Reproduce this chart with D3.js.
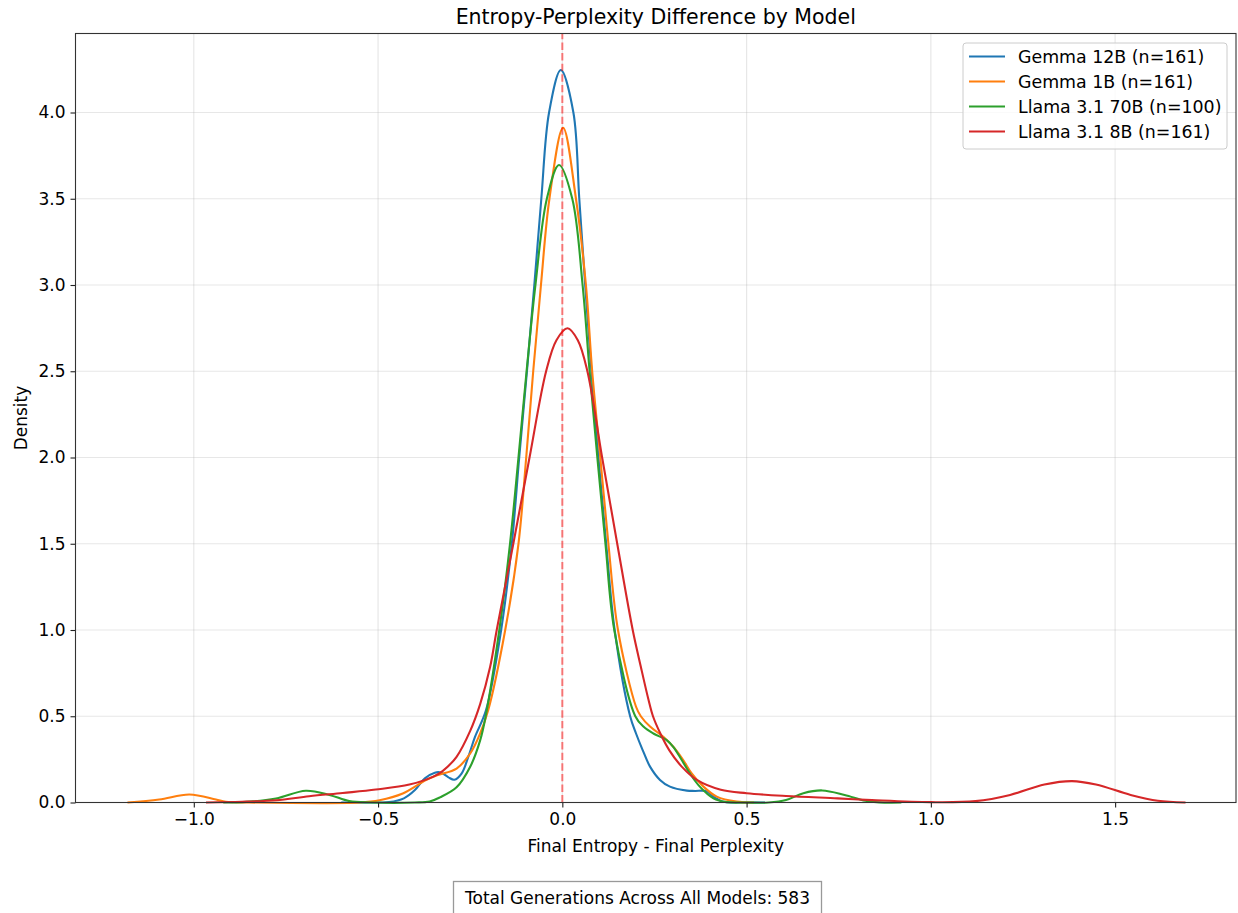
<!DOCTYPE html>
<html>
<head>
<meta charset="utf-8">
<script src="https://cdn.jsdelivr.net/npm/d3@7"></script>
<style>
  body { margin: 0; background: #fff; }
  svg text { font-family: "DejaVu Sans", sans-serif; fill: #000; }
</style>
</head>
<body>
<div id="chart"></div>
<script>
// series names (legend order)
var modelNames = ["Gemma 12B (n=161)", "Gemma 1B (n=161)", "Llama 3.1 70B (n=100)", "Llama 3.1 8B (n=161)"];
var modelColors = ["#1f77b4", "#ff7f0e", "#2ca02c", "#d62728"];

// density curves (x = entropy - perplexity, y = density)
var gemma12bX = [-0.60, -0.50, -0.47, -0.43, -0.40, -0.373, -0.346, -0.33, -0.309, -0.293, -0.273, -0.255, -0.237, -0.207, -0.166, -0.137, -0.117, -0.096, -0.076, -0.057, -0.036, -0.004, 0.030, 0.046, 0.062, 0.079, 0.098, 0.119, 0.142, 0.184, 0.200, 0.218, 0.238, 0.265, 0.292, 0.338, 0.36, 0.39, 0.41, 0.437, 0.47, 0.55];
var gemma12bY = [0, 0, 0.002, 0.024, 0.072, 0.14, 0.173, 0.174, 0.146, 0.132, 0.169, 0.266, 0.38, 0.536, 1.0, 1.5, 2.0, 2.5, 3.0, 3.5, 4.0, 4.246, 4.0, 3.5, 3.0, 2.5, 2.0, 1.5, 1.0, 0.5, 0.40, 0.304, 0.208, 0.131, 0.092, 0.069, 0.067, 0.066, 0.034, 0.004, 0, 0];

var gemma1bX = [-1.18, -1.094, -1.012, -0.94, -0.913, -0.85, -0.55, -0.496, -0.433, -0.37, -0.34, -0.287, -0.25, -0.223, -0.201, -0.155, -0.119, -0.098, -0.079, -0.058, -0.035, 0.002, 0.037, 0.064, 0.081, 0.103, 0.125, 0.151, 0.2, 0.213, 0.238, 0.274, 0.301, 0.328, 0.351, 0.383, 0.419, 0.473, 0.52];
var gemma1bY = [0, 0.017, 0.046, 0.017, 0.004, 0, 0, 0.013, 0.052, 0.13, 0.158, 0.197, 0.284, 0.40, 0.536, 1.0, 1.5, 2.0, 2.5, 3.0, 3.5, 3.912, 3.5, 3.0, 2.5, 2.0, 1.5, 1.0, 0.555, 0.5, 0.44, 0.381, 0.323, 0.246, 0.169, 0.092, 0.034, 0.005, 0];

var llama70bX = [-0.92, -0.867, -0.777, -0.696, -0.632, -0.578, -0.52, -0.40, -0.36, -0.332, -0.287, -0.25, -0.223, -0.208, -0.171, -0.142, -0.119, -0.097, -0.073, -0.042, -0.009, 0.027, 0.055, 0.074, 0.095, 0.117, 0.141, 0.198, 0.22, 0.247, 0.283, 0.301, 0.324, 0.346, 0.373, 0.41, 0.446, 0.50, 0.56, 0.607, 0.654, 0.705, 0.766, 0.822, 0.86, 0.92];
var llama70bY = [0, 0.002, 0.023, 0.068, 0.044, 0.008, 0, 0, 0.006, 0.03, 0.088, 0.207, 0.36, 0.5, 1.0, 1.5, 2.0, 2.5, 3.0, 3.5, 3.696, 3.5, 3.0, 2.5, 2.0, 1.5, 1.0, 0.5, 0.44, 0.40, 0.362, 0.323, 0.246, 0.169, 0.092, 0.024, 0.002, 0, 0, 0.014, 0.054, 0.07, 0.044, 0.01, 0.001, 0];

var llama8bX = [-0.967, -0.87, -0.777, -0.687, -0.596, -0.506, -0.415, -0.35, -0.325, -0.287, -0.25, -0.223, -0.196, -0.178, -0.133, -0.089, -0.044, -0.016, 0.014, 0.042, 0.068, 0.108, 0.149, 0.191, 0.213, 0.234, 0.246, 0.266, 0.290, 0.324, 0.365, 0.43, 0.50, 0.607, 0.747, 0.84, 1.0, 1.121, 1.215, 1.308, 1.383, 1.448, 1.542, 1.616, 1.691];
var llama8bY = [0, 0.004, 0.013, 0.036, 0.055, 0.075, 0.104, 0.15, 0.182, 0.265, 0.415, 0.57, 0.785, 1.0, 1.5, 2.0, 2.5, 2.68, 2.749, 2.68, 2.5, 2.0, 1.5, 1.0, 0.787, 0.594, 0.5, 0.40, 0.304, 0.208, 0.131, 0.074, 0.054, 0.038, 0.024, 0.014, 0.002, 0.008, 0.044, 0.104, 0.124, 0.104, 0.044, 0.01, 0];

var xTicks = [-1.0, -0.5, 0.0, 0.5, 1.0, 1.5];
var yTicks = [0.0, 0.5, 1.0, 1.5, 2.0, 2.5, 3.0, 3.5, 4.0];
var totalGenerations = 583;

var seriesX = [gemma12bX, gemma1bX, llama70bX, llama8bX];
var seriesY = [gemma12bY, gemma1bY, llama70bY, llama8bY];

var width = 1238, height = 913;
var margin = {left: 75.5, right: 2, top: 33.5, bottom: 110.5};

var svg = d3.select("#chart").append("svg")
    .attr("width", width)
    .attr("height", height);

var x = d3.scaleLinear().domain([-1.321, 1.828]).range([margin.left, width - margin.right]);
var y = d3.scaleLinear().domain([0, 4.458]).range([height - margin.bottom, margin.top]);

// Grid
svg.append("g").selectAll("line")
    .data(xTicks)
    .enter().append("line")
      .attr("x1", function (d) { return x(d); })
      .attr("x2", function (d) { return x(d); })
      .attr("y1", y.range()[0])
      .attr("y2", y.range()[1])
      .style("stroke", "#b0b0b0")
      .style("stroke-opacity", 0.3)
      .style("stroke-width", 1.2);

svg.append("g").selectAll("line")
    .data(yTicks)
    .enter().append("line")
      .attr("x1", x.range()[0])
      .attr("x2", x.range()[1])
      .attr("y1", function (d) { return y(d); })
      .attr("y2", function (d) { return y(d); })
      .style("stroke", "#b0b0b0")
      .style("stroke-opacity", 0.3)
      .style("stroke-width", 1.2);

// Curves
var line = d3.line()
    .x(function (d) { return x(d[0]); })
    .y(function (d) { return y(d[1]); })
    .curve(d3.curveCatmullRom.alpha(0.5));

seriesX.forEach(function (xs, i) {
  var pts = xs.map(function (v, j) { return [v, seriesY[i][j]]; });
  svg.append("path")
    .datum(pts)
    .attr("d", line)
    .style("fill", "none")
    .style("stroke", modelColors[i])
    .style("stroke-width", 2.1)
    .style("stroke-linejoin", "round");
});

// zero line
svg.append("line")
    .attr("x1", x(0)).attr("x2", x(0))
    .attr("y1", y.range()[0]).attr("y2", y.range()[1])
    .style("stroke", "red")
    .style("stroke-opacity", 0.5)
    .style("stroke-width", 2)
    .style("stroke-dasharray", "7.4,3.2");

// Axes
var xAxis = d3.axisBottom(x).tickValues(xTicks).tickFormat(d3.format(".1f")).tickSizeOuter(0).tickSize(5).tickPadding(5);
var yAxis = d3.axisLeft(y).tickValues(yTicks).tickFormat(d3.format(".1f")).tickSizeOuter(0).tickSize(5).tickPadding(5);

var gx = svg.append("g")
    .attr("transform", "translate(0," + y.range()[0] + ")")
    .call(xAxis);
var gy = svg.append("g")
    .attr("transform", "translate(" + x.range()[0] + ",0)")
    .call(yAxis);

[gx, gy].forEach(function (g) {
  g.select(".domain").remove();
  g.selectAll(".tick line").style("stroke", "#222").style("stroke-width", 1.1);
  g.selectAll(".tick text").style("font-family", "DejaVu Sans").style("font-size", "17px").style("fill", "#000");
});

// frame
svg.append("rect")
    .attr("x", x.range()[0])
    .attr("y", y.range()[1])
    .attr("width", x.range()[1] - x.range()[0])
    .attr("height", y.range()[0] - y.range()[1])
    .style("fill", "none")
    .style("stroke", "#333")
    .style("stroke-width", 1.1);

// Titles
svg.append("text")
    .attr("x", (x.range()[0] + x.range()[1]) / 2)
    .attr("y", 24)
    .attr("text-anchor", "middle")
    .style("font-size", "20.5px")
    .text("Entropy-Perplexity Difference by Model");

svg.append("text")
    .attr("x", (x.range()[0] + x.range()[1]) / 2)
    .attr("y", 852)
    .attr("text-anchor", "middle")
    .style("font-size", "17px")
    .text("Final Entropy - Final Perplexity");

svg.append("text")
    .attr("transform", "translate(27," + ((y.range()[0] + y.range()[1]) / 2) + ") rotate(-90)")
    .attr("text-anchor", "middle")
    .style("font-size", "17px")
    .text("Density");

// Legend
var legend = svg.append("g").attr("transform", "translate(963,43)");
legend.append("rect")
    .attr("width", 264)
    .attr("height", 106)
    .attr("rx", 3)
    .style("fill", "#fff")
    .style("fill-opacity", 0.8)
    .style("stroke", "#cccccc")
    .style("stroke-width", 1);

var items = legend.selectAll("g.item")
    .data(modelNames)
    .enter().append("g")
      .attr("class", "item")
      .attr("transform", function (d, i) { return "translate(0," + (13.5 + i * 25) + ")"; });

items.append("line")
    .attr("x1", 6).attr("x2", 42)
    .style("stroke", function (d, i) { return modelColors[i]; })
    .style("stroke-width", 2.1);

items.append("text")
    .attr("x", 55)
    .attr("dy", "0.35em")
    .style("font-size", "17.4px")
    .text(function (d) { return d; });

// Footer box
var foot = svg.append("g");
foot.append("rect")
    .attr("x", 453.5)
    .attr("y", 881.5)
    .attr("width", 368)
    .attr("height", 40)
    .style("fill", "#fff")
    .style("stroke", "#999")
    .style("stroke-width", 1.3);
foot.append("text")
    .attr("x", 637.5)
    .attr("y", 904)
    .attr("text-anchor", "middle")
    .style("font-size", "17px")
    .text("Total Generations Across All Models: " + totalGenerations);
</script>
</body>
</html>
